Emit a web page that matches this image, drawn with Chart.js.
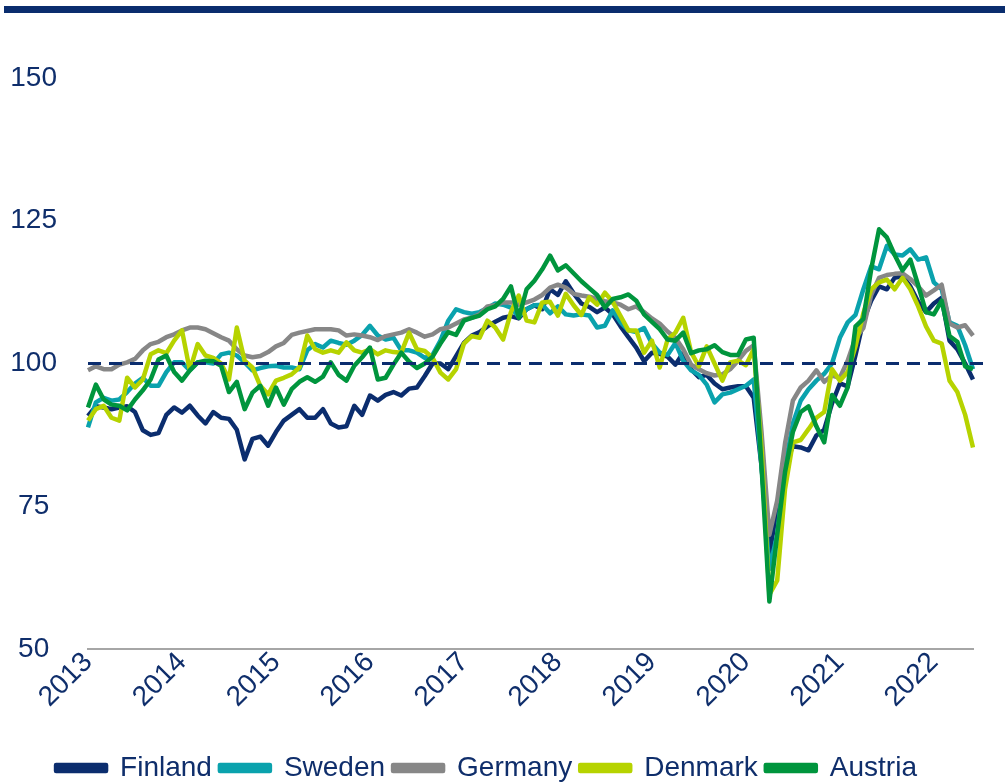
<!DOCTYPE html>
<html>
<head>
<meta charset="utf-8">
<script src="https://cdn.jsdelivr.net/npm/chart.js@4.4.0/dist/chart.umd.min.js"></script>
<style>
    html, body { margin: 0; padding: 0; background: #fff; }
    #wrap { position: relative; width: 1005px; height: 782px; }
    #topBar { position: absolute; left: 4px; right: 0; top: 6px; height: 7px; background: #0a2d6e; }
    canvas { display: block; }
</style>
</head>
<body>
<div id="wrap">
    <div id="topBar"></div>
    <canvas id="pmiChart" width="1005" height="782"></canvas>
</div>
<script>
// Monthly index values, Jan 2013 - Jun 2022
const startYear = 2013;
const referenceLevel = 100;
const yTicks = [50, 75, 100, 125, 150];

const finland = [
    90.8, 92.5, 92.3, 92.0, 92.3, 92.5, 91.5, 88.3, 87.5, 87.8, 91.0, 92.3,
    91.4, 92.6, 90.9, 89.5, 91.5, 90.5, 90.3, 88.4, 83.2, 86.8, 87.2, 85.6,
    88.0, 90.0, 91.0, 92.0, 90.5, 90.5, 92.0, 89.5, 88.8, 89.0, 92.6, 91.0,
    94.4, 93.5, 94.5, 95.0, 94.4, 95.6, 95.8, 97.8, 100.0, 100.0, 99.0, 101.3,
    103.6, 104.9, 105.5, 106.5, 107.3, 108.0, 108.3, 107.9, 109.5, 110.2, 109.5, 113.0,
    112.0, 114.4, 112.3, 110.5, 109.9, 109.0, 109.8, 108.6, 106.5, 104.6, 102.8, 100.4,
    101.9, 101.7, 101.2, 99.8, 101.9, 99.0, 97.6, 98.0, 96.5, 95.5, 95.8, 96.0,
    96.0, 94.0, 82.0, 66.5, 75.0, 82.0, 85.5, 85.3, 84.8, 87.4, 88.4, 93.0,
    96.5, 96.0, 101.5, 107.5, 111.0, 113.5, 113.0, 115.0, 115.3, 113.5, 110.8, 109.0,
    110.5, 111.5, 104.0, 102.5, 100.0, 97.2
];
const sweden = [
    88.8, 93.2, 94.0, 93.5, 93.7, 95.0, 96.5, 97.5, 96.1, 96.1, 98.5, 100.2,
    100.2, 98.8, 100.2, 100.2, 100.0, 101.6, 101.9, 101.4, 100.2, 98.8, 99.2, 99.5,
    99.6, 99.3, 99.3, 99.0, 102.3, 103.4, 102.8, 104.0, 103.6, 103.3, 104.0, 105.0,
    106.6, 104.9, 104.2, 104.5, 102.3, 102.3, 101.9, 101.0, 101.5, 104.0, 107.5, 109.5,
    109.0, 108.7, 109.0, 109.7, 110.5, 110.3, 109.8, 108.2, 109.5, 110.2, 110.3, 108.8,
    110.0, 108.6, 108.4, 108.6, 108.4, 106.3, 106.6, 109.3, 107.2, 105.8, 105.5, 106.2,
    103.5, 101.9, 101.5, 103.6, 100.5, 98.8, 98.0, 96.3, 93.2, 94.6, 94.9, 95.5,
    96.1, 97.2, 82.0, 64.0, 70.0, 82.0, 89.5, 93.5, 95.5, 97.0, 98.2, 100.0,
    104.5, 107.2, 108.5, 113.0, 117.0, 116.5, 120.6, 119.1, 118.9, 120.0, 118.2, 118.6,
    114.2, 113.0, 107.2, 106.6, 103.2, 99.0
];
const germany = [
    98.8, 99.5, 99.0, 99.0, 99.8, 100.2, 100.8, 102.3, 103.4, 103.8, 104.6, 105.1,
    105.8, 106.3, 106.3, 106.0, 105.3, 104.6, 104.0, 102.5, 101.4, 101.1, 101.3, 102.0,
    103.0, 103.6, 105.0, 105.4, 105.7, 106.0, 106.0, 106.0, 105.8, 104.9, 105.1, 104.9,
    104.6, 104.1, 104.8, 105.1, 105.4, 106.0, 105.4, 104.7, 105.1, 106.0, 106.3, 107.0,
    107.7, 108.0, 108.6, 110.0, 110.2, 110.7, 110.7, 110.3, 110.7, 111.2, 112.0, 113.3,
    113.8, 113.3, 112.2, 111.9, 111.7, 111.3, 110.9, 110.7, 110.3, 109.5, 110.0, 109.0,
    107.9, 107.0, 105.6, 104.5, 102.5, 99.8, 99.0, 98.3, 97.9, 98.1, 99.0, 100.5,
    102.2, 103.2, 88.0, 70.0, 76.0, 86.0, 93.5, 95.8, 97.0, 98.8, 96.8, 97.9,
    97.5, 100.5, 104.5, 106.2, 112.0, 115.0, 115.5, 115.7, 115.8, 114.8, 113.5, 111.9,
    112.8, 113.8, 107.0, 106.3, 106.7, 104.9
];
const denmark = [
    90.0, 92.0, 92.6, 90.5, 90.0, 97.5, 95.8, 97.2, 101.6, 102.3, 101.8, 104.0,
    105.8, 98.8, 103.4, 101.4, 101.0, 100.0, 97.2, 106.3, 100.5, 99.3, 96.1, 94.6,
    97.0, 97.5, 98.1, 99.3, 104.9, 102.5, 101.9, 102.3, 101.9, 103.7, 102.3, 101.9,
    102.5, 101.6, 102.3, 102.0, 101.9, 105.4, 102.5, 102.2, 101.0, 98.4, 97.2, 99.0,
    103.5, 104.8, 104.5, 107.5, 106.3, 104.2, 109.0, 111.9, 107.5, 107.2, 110.7, 110.8,
    108.4, 112.2, 110.2, 108.5, 111.6, 110.3, 112.4, 110.8, 108.3, 105.8, 105.8, 101.9,
    104.0, 99.3, 104.2, 105.4, 108.0, 102.0, 99.5, 103.0, 100.0, 97.0, 100.2, 100.5,
    99.7, 102.5, 85.0, 59.5, 62.0, 78.0, 86.2, 86.6, 88.5, 90.5, 91.5, 99.0,
    97.0, 98.5, 103.0, 108.8, 113.0, 114.2, 114.7, 113.0, 115.0, 113.0, 110.0, 106.5,
    104.0, 103.5, 97.0, 95.0, 91.0, 85.3
];
const austria = [
    92.3, 96.3, 93.7, 92.8, 92.6, 91.8, 93.7, 95.3, 97.2, 100.7, 101.4, 98.5,
    97.0, 98.8, 100.2, 100.5, 100.4, 99.6, 95.0, 96.8, 92.0, 94.9, 96.1, 92.6,
    95.8, 92.8, 95.5, 96.8, 97.6, 96.8, 97.7, 100.2, 98.0, 97.0, 99.6, 101.1,
    102.8, 97.2, 97.5, 99.8, 101.9, 100.3, 99.2, 100.0, 101.2, 103.5, 105.5, 105.0,
    107.5, 108.0, 108.4, 109.5, 110.0, 111.3, 113.5, 108.0, 113.0, 114.5, 116.5, 118.9,
    116.3, 117.2, 115.8, 114.4, 113.2, 112.0, 109.8, 111.3, 111.6, 112.1, 111.0, 108.6,
    107.3, 106.0, 104.2, 104.0, 105.4, 101.8, 102.3, 102.5, 103.2, 102.0, 101.5, 101.5,
    104.2, 104.5, 82.0, 58.3, 70.0, 81.0, 88.0, 91.5, 92.5, 89.0, 86.2, 94.5,
    92.6, 95.8, 106.5, 107.8, 116.5, 123.5, 122.1, 119.0, 116.3, 118.2, 113.7, 109.0,
    108.6, 111.0, 104.8, 103.8, 99.5, 99.0
];

const seriesNames = ['Finland', 'Sweden', 'Germany', 'Denmark', 'Austria'];
const seriesColors = ['#0b2d6e', '#0aa2ad', '#878787', '#b6d300', '#00953d'];
const textColor = '#0f2e6b';

const monthLabels = [];
for (let i = 0; i < finland.length; i++) {
    const year = startYear + Math.floor(i / 12);
    const month = String(i % 12 + 1).padStart(2, '0');
    monthLabels.push(year + '-' + month);
}

// dashed line at the 100 level
const refLinePlugin = {
    id: 'refLine',
    afterDatasetsDraw(chart) {
        const { ctx, chartArea, scales } = chart;
        const y = scales.y.getPixelForValue(referenceLevel);
        ctx.save();
        ctx.strokeStyle = '#0b2d6e';
        ctx.lineWidth = 3;
        ctx.setLineDash([13, 8]);
        ctx.beginPath();
        ctx.moveTo(chartArea.left, y);
        ctx.lineTo(chartArea.right + 10, y);
        ctx.stroke();
        ctx.restore();
    }
};

Chart.defaults.font.family = '"Liberation Sans", Arial, sans-serif';

const allSeries = [finland, sweden, germany, denmark, austria];

new Chart(document.getElementById('pmiChart'), {
    type: 'line',
    data: {
        labels: monthLabels,
        datasets: allSeries.map((values, i) => ({
            label: seriesNames[i],
            data: values,
            borderColor: seriesColors[i],
            backgroundColor: seriesColors[i],
            borderWidth: 4.5,
            borderJoinStyle: 'round',
            pointRadius: 0,
            tension: 0,
            // last series on top, like the original
            order: allSeries.length - i
        }))
    },
    options: {
        responsive: false,
        animation: false,
        layout: {
            padding: { top: 78, left: 0, right: 32, bottom: -10 }
        },
        plugins: {
            legend: {
                position: 'bottom',
                labels: {
                    color: textColor,
                    font: { size: 28 },
                    boxWidth: 50,
                    boxHeight: 6,
                    padding: 8,
                    sort: (a, b) => a.datasetIndex - b.datasetIndex
                }
            },
            tooltip: { enabled: false }
        },
        scales: {
            x: {
                grid: { display: false, drawTicks: false },
                border: { display: true, color: '#a6a6a6', width: 2 },
                afterFit: (scale) => { scale.height = 97; },
                ticks: {
                    color: textColor,
                    font: { size: 28 },
                    autoSkip: false,
                    minRotation: 45,
                    maxRotation: 45,
                    padding: -3,
                    callback: function (value) {
                        const label = this.getLabelForValue(value);
                        return label.endsWith('-01') ? label.slice(0, 4) : null;
                    }
                }
            },
            y: {
                min: yTicks[0],
                max: yTicks[yTicks.length - 1],
                grid: { display: false, drawTicks: false },
                border: { display: false },
                afterFit: (scale) => { scale.width = 88; },
                afterBuildTicks: (scale) => {
                    scale.ticks = yTicks.map(v => ({ value: v }));
                },
                ticks: {
                    color: textColor,
                    font: { size: 28 },
                    crossAlign: 'center',
                    padding: 31
                }
            }
        }
    },
    plugins: [refLinePlugin]
});
</script>
</body>
</html>
